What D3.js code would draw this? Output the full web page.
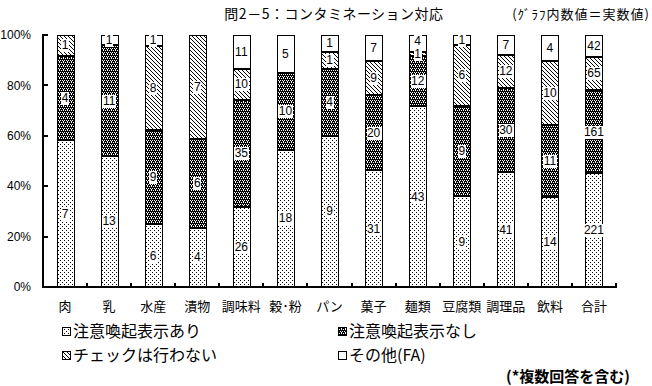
<!DOCTYPE html>
<html>
<head>
<meta charset="utf-8">
<script src="https://cdn.jsdelivr.net/npm/d3@7"></script>
<style>
  body { margin: 0; background: #fff; }
  svg { font-family: "Noto Sans CJK JP", sans-serif; }
  .num { font-family: "Liberation Sans", "Noto Sans CJK JP", sans-serif; font-size: 12px; fill: #000; }
</style>
</head>
<body>
<svg class="chart"></svg>
<script>
var categories = ["肉", "乳", "水産", "漬物", "調味料", "穀･粉", "パン", "菓子", "麺類", "豆腐類", "調理品", "飲料", "合計"];
var ari     = [7, 13, 6, 4, 26, 18, 9, 31, 43, 9, 41, 14, 221];   // 注意喚起表示あり
var nashi   = [4, 11, 9, 6, 35, 10, 4, 20, 12, 9, 30, 11, 161];   // 注意喚起表示なし
var noCheck = [1, 0, 8, 7, 10, 0, 1, 9, 1, 6, 12, 10, 65];        // チェックは行わない
var other   = [0, 1, 1, 0, 11, 5, 1, 7, 4, 1, 7, 4, 42];          // その他(FA)
var seriesNames = ["注意喚起表示あり", "注意喚起表示なし", "チェックは行わない", "その他(FA)"];
var yTicks = [0, 20, 40, 60, 80, 100];

var keys = ["ari", "nashi", "noCheck", "other"];
var rows = categories.map(function(c, i) {
  return {cat: c, ari: ari[i], nashi: nashi[i], noCheck: noCheck[i], other: other[i]};
});

var W = 652, H = 386;
var svg = d3.select(".chart").attr("width", W).attr("height", H);

function dots(id, size, bg, fg, pts) {
  var p = defs.append("pattern").attr("id", id).attr("width", size).attr("height", size)
    .attr("patternUnits", "userSpaceOnUse");
  p.append("rect").attr("width", size).attr("height", size).attr("fill", bg);
  pts.forEach(function(d) {
    p.append("rect").attr("x", d[0]).attr("y", d[1]).attr("width", 1).attr("height", 1).attr("fill", fg);
  });
}

// fill patterns
var defs = svg.append("defs");
dots("p0", 4, "#fff", "#000", [[0, 0], [2, 2]]);
dots("p1", 4, "#000", "#fff", [[0, 0], [2, 0], [1, 2], [3, 2], [3, 1]]);
dots("p2", 4, "#fff", "#000", [[0, 0], [1, 1], [2, 2], [3, 3]]);

var fills = ["url(#p0)", "url(#p1)", "url(#p2)", "#fff"];

var x = d3.scaleBand().domain(categories).range([43, 616]);
var y = d3.scaleLinear().domain([0, 1]).range([287, 35]);
var barW = 17;

var stacked = d3.stack().keys(keys).offset(d3.stackOffsetExpand)(rows);

var g = svg.append("g").attr("shape-rendering", "crispEdges");

stacked.forEach(function(layer, li) {
  g.selectAll(".s" + li)
    .data(layer.filter(function(d) { return d[1] - d[0] > 0; }))
    .enter().append("rect")
    .attr("x", function(d) { return Math.round(x(d.data.cat) + x.bandwidth() / 2 - barW / 2); })
    .attr("y", function(d) { return y(d[1]); })
    .attr("width", barW)
    .attr("height", function(d) { return y(d[0]) - y(d[1]); })
    .attr("fill", fills[li])
    .attr("stroke", "#000")
    .attr("stroke-width", 1);
});

// thick separators between segments
stacked.forEach(function(layer, li) {
  if (li == 0) return;
  g.selectAll(".sep" + li)
    .data(layer.filter(function(d) { return d[0] > 0 && d[0] < 1 && d[1] - d[0] > 0; }))
    .enter().append("line")
    .attr("x1", function(d) { return Math.round(x(d.data.cat) + x.bandwidth() / 2 - barW / 2); })
    .attr("x2", function(d) { return Math.round(x(d.data.cat) + x.bandwidth() / 2 + barW / 2); })
    .attr("y1", function(d) { return y(d[0]); })
    .attr("y2", function(d) { return y(d[0]); })
    .attr("stroke", "#000")
    .attr("stroke-width", 2);
});

// label positions: segment centres, pushed up when two collide
var lastY = {};
var labels = [];
stacked.forEach(function(layer, li) {
  layer.forEach(function(d) {
    var v = d.data[keys[li]];
    if (!(v > 0)) return;
    var ly = Math.round(y((d[0] + d[1]) / 2));
    var c = d.data.cat;
    if (lastY[c] != null && ly > lastY[c] - 13) ly = lastY[c] - 13;
    lastY[c] = ly;
    labels.push({cat: c, v: v, y: ly});
  });
});

var lab = svg.selectAll(".lab")
  .data(labels)
  .enter().append("g")
  .attr("transform", function(d) {
    return "translate(" + (x(d.cat) + x.bandwidth() / 2) + "," + d.y + ")";
  });
lab.append("text")
  .attr("class", "num")
  .attr("text-anchor", "middle")
  .attr("dy", "0.36em")
  .text(function(d) { return d.v; });
lab.each(function() {
  var b = d3.select(this).select("text").node().getBBox();
  d3.select(this).insert("rect", "text")
    .attr("x", Math.floor(b.x)).attr("y", Math.floor(b.y) + 1)
    .attr("width", Math.ceil(b.width) + 1).attr("height", Math.ceil(b.height) - 1)
    .attr("fill", "#fff")
    .attr("shape-rendering", "crispEdges");
});

// axes
var axis = svg.append("g").attr("shape-rendering", "crispEdges");
axis.append("line").attr("x1", 43).attr("x2", 43).attr("y1", 34).attr("y2", 288)
  .attr("stroke", "#000").attr("stroke-width", 2);
axis.append("line").attr("x1", 42).attr("x2", 617).attr("y1", 287).attr("y2", 287)
  .attr("stroke", "#000").attr("stroke-width", 2);

axis.selectAll(".yt").data(yTicks).enter().append("line")
  .attr("x1", 43).attr("x2", 48)
  .attr("y1", function(d) { return y(d / 100); })
  .attr("y2", function(d) { return y(d / 100); })
  .attr("stroke", "#000").attr("stroke-width", 2);

svg.selectAll(".yl").data(yTicks).enter().append("text")
  .attr("x", 31)
  .attr("y", function(d) { return y(d / 100); })
  .attr("dy", "0.35em")
  .attr("text-anchor", "end")
  .style("font-size", "12px")
  .style("font-family", "'Liberation Sans', sans-serif")
  .text(function(d) { return d + "%"; });

axis.selectAll(".xt").data(categories).enter().append("line")
  .attr("x1", function(d) { return Math.round(x(d) + x.bandwidth()); })
  .attr("x2", function(d) { return Math.round(x(d) + x.bandwidth()); })
  .attr("y1", 287).attr("y2", 283)
  .attr("stroke", "#000").attr("stroke-width", 2);

svg.selectAll(".xl").data(categories).enter().append("text")
  .attr("x", function(d) { return x(d) + x.bandwidth() / 2; })
  .attr("y", 306)
  .attr("dy", "0.35em")
  .attr("text-anchor", "middle")
  .style("font-size", "13px")
  .text(function(d) { return d; });

// titles
svg.append("text")
  .attr("x", 334).attr("y", 14).attr("dy", "0.35em")
  .attr("text-anchor", "middle")
  .style("font-size", "14px")
  .style("letter-spacing", "0.5px")
  .text("問2－5：コンタミネーション対応");

svg.append("text")
  .attr("x", 650).attr("y", 14).attr("dy", "0.35em")
  .attr("text-anchor", "end")
  .style("font-size", "13px")
  .style("letter-spacing", "1px")
  .text("(ｸﾞﾗﾌ内数値＝実数値)");

// legend
var legPos = [[62, 331], [338, 331], [62, 355], [338, 355]];
var leg = svg.selectAll(".leg").data(seriesNames).enter().append("g")
  .attr("transform", function(d, i) { return "translate(" + legPos[i][0] + "," + legPos[i][1] + ")"; });
leg.append("rect")
  .attr("x", 0).attr("y", -4).attr("width", 8).attr("height", 8)
  .attr("fill", function(d, i) { return fills[i]; })
  .attr("stroke", "#000").attr("stroke-width", 1)
  .attr("shape-rendering", "crispEdges");
leg.append("text")
  .attr("x", 11).attr("dy", "0.35em")
  .style("font-size", "16px")
  .text(function(d) { return d; });

svg.append("text")
  .attr("x", 630).attr("y", 377).attr("dy", "0.35em")
  .attr("text-anchor", "end")
  .style("font-size", "15px")
  .style("font-weight", "bold")
  .text("(*複数回答を含む)");
</script>
</body>
</html>
